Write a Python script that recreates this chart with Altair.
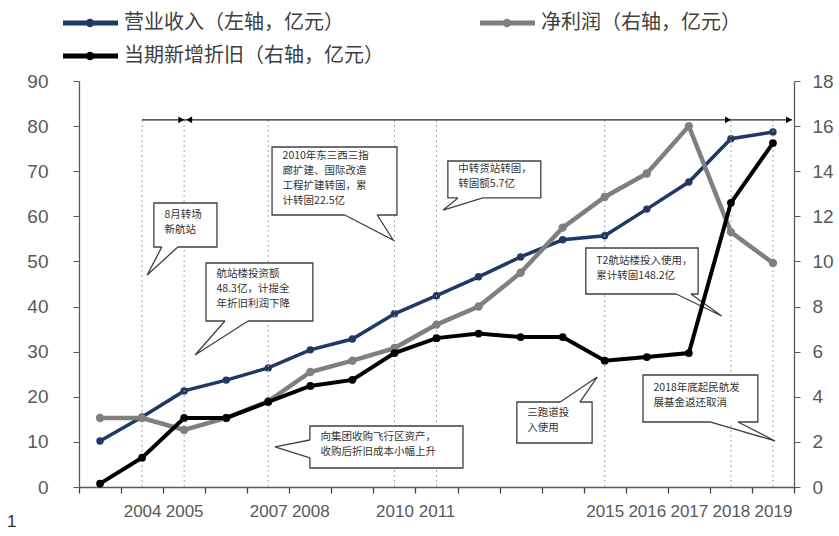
import altair as alt
import pandas as pd

# ---------------- data ----------------
years = list(range(2003, 2020))
year_labels = ["", "2004", "2005", "", "2007", "2008", "", "2010", "2011",
               "", "", "", "2015", "2016", "2017", "2018", "2019"]
revenue = [10.2, 15.5, 21.3, 23.7, 26.4, 30.4, 32.8, 38.4, 42.4,
           46.6, 51.0, 54.8, 55.7, 61.6, 67.6, 77.2, 78.7]
net_profit = [3.06, 3.06, 2.53, 3.06, 3.8, 5.1, 5.6, 6.16, 7.2,
              8.0, 9.5, 11.5, 12.86, 13.9, 16.0, 11.3, 9.93]
depreciation = [0.15, 1.3, 3.06, 3.06, 3.77, 4.48, 4.75, 5.94, 6.6,
                 6.8, 6.65, 6.65, 5.6, 5.76, 5.94, 12.6, 15.25]

series_names = ["营业收入（左轴，亿元）", "净利润（右轴，亿元）", "当期新增折旧（右轴，亿元）"]
series_colors = ["#1F3864", "#7F7F7F", "#000000"]

event_years = [2004, 2005, 2007, 2010, 2011, 2015, 2018, 2019]
period_level = 81.4           # left-axis units
period_start, period_end = 2004, 2019.45
arrow_years = [2004.93, 2005.12, 2017.93, 2019.38]
arrow_shapes = ["triangle-right", "triangle-left", "triangle-right", "triangle-right"]

callout_text = [
    "8月转场\n新航站",
    "航站楼投资额\n48.3亿，计提全\n年折旧利润下降",
    "2010年东三西三指\n廊扩建、国际改造\n工程扩建转固，累\n计转固22.5亿",
    "中转货站转固，\n转固额5.7亿",
    "T2航站楼投入使用，\n累计转固148.2亿",
    "三跑道投\n入使用",
    "2018年底起民航发\n展基金返还取消",
    "向集团收购飞行区资产，\n收购后折旧成本小幅上升",
]
box_x0 = [2004.28, 2005.52, 2007.09, 2011.27, 2014.55, 2012.91, 2015.91, 2007.99]
box_x1 = [2005.78, 2008.06, 2010.06, 2013.48, 2017.22, 2014.70, 2018.64, 2011.63]
box_top = [62.96, 49.66, 75.37, 72.27, 52.98, 18.84, 24.83, 13.52]
box_bot = [53.20, 36.80, 60.30, 64.07, 42.78, 9.75, 14.41, 4.21]
tail_ax = [2004.47, 2005.97, 2008.82, 2011.51, 2016.70, 2013.94, 2017.50, 2007.99]
tail_ay = [53.20, 36.80, 60.30, 64.07, 42.78, 18.84, 14.41, 10.42]
tail_bx = [2004.85, 2006.52, 2009.59, 2012.10, 2017.05, 2014.41, 2018.17, 2007.99]
tail_by = [53.20, 36.80, 60.30, 64.07, 42.78, 18.84, 14.41, 6.43]
tip_x = [2004.12, 2005.26, 2009.97, 2011.16, 2017.78, 2014.82, 2019.05, 2007.16]
tip_y = [47.0, 29.26, 54.75, 61.4, 37.9, 24.38, 10.2, 8.87]

# ---------------- styling ----------------
AX_FONT = "Liberation Sans"
CJK = "Noto Sans CJK SC"
AX_COLOR = "#595959"
XDOM = [2002.5, 2019.5]
PLOT_H = 406
LINE_H = 15
UNITS_PER_PX = 90 / PLOT_H

# x axis: ticks between categories, labels at categories
tick_values = [2002.5 + 0.5 * i for i in range(35)]
label_arr = "[" + ",".join("'" + s + "'" for s in year_labels) + "]"
label_expr = f"datum.value % 1 == 0 ? {label_arr}[datum.value - {years[0]}] : ''"

x_axis = alt.Axis(
    values=tick_values, labelExpr=label_expr, title=None, grid=False, orient="bottom",
    tickOpacity={"condition": {"test": "datum.value % 1 != 0", "value": 1}, "value": 0},
    labelFont=AX_FONT, labelFontSize=17, labelColor=AX_COLOR,
    domainColor=AX_COLOR, tickColor="#404040", tickSize=6, tickWidth=1.3, domainWidth=1.3,
    labelPadding=10, labelOverlap=False, labelFlush=False, labelBound=False,
)
yl_axis = alt.Axis(
    values=list(range(0, 91, 10)), title=None, grid=False, orient="left",
    labelFont=AX_FONT, labelFontSize=19, labelColor=AX_COLOR,
    domainColor=AX_COLOR, tickColor=AX_COLOR, tickSize=6, domainWidth=1.3,
    labelPadding=25,
)
yr_axis = alt.Axis(
    values=list(range(0, 19, 2)), title=None, grid=False, orient="right",
    labelFont=AX_FONT, labelFontSize=19, labelColor=AX_COLOR,
    domainColor=AX_COLOR, tickColor=AX_COLOR, tickSize=6, domainWidth=1.3,
    labelPadding=12,
)


def X(field):
    return alt.X(field, type="quantitative",
                 scale=alt.Scale(domain=XDOM, nice=False, zero=False), axis=x_axis)


def YL(field):
    return alt.Y(field, type="quantitative",
                 scale=alt.Scale(domain=[0, 90], nice=False), axis=yl_axis)


def YR(field):
    return alt.Y(field, type="quantitative",
                 scale=alt.Scale(domain=[0, 18], nice=False), axis=yr_axis)


# ---------------- tables ----------------
df_rev = pd.DataFrame({"year": years, "v": revenue})
df_np = pd.DataFrame({"year": years, "v": net_profit})
df_dep = pd.DataFrame({"year": years, "v": depreciation})

df_events = pd.DataFrame({"year": event_years, "lo": 0.0, "hi": period_level})
df_period = pd.DataFrame({"a": [period_start], "b": [period_end], "y": [period_level]})
df_arrows = pd.DataFrame({"year": arrow_years, "shape": arrow_shapes, "y": period_level})

df_boxes = pd.DataFrame({"x0": box_x0, "x1": box_x1, "t": box_top, "b": box_bot,
                         "txt": callout_text})
n_lines = df_boxes["txt"].str.count("\n") + 1
df_boxes["tx"] = df_boxes["x0"] + 0.25
df_boxes["ty"] = (df_boxes["t"] + df_boxes["b"]) / 2 + n_lines * LINE_H * UNITS_PER_PX / 2

tail_rows = []
for i in range(len(callout_text)):
    tail_rows.append({"cid": i, "k": 0, "x": tail_ax[i], "y": tail_ay[i]})
    tail_rows.append({"cid": i, "k": 1, "x": tip_x[i], "y": tip_y[i]})
    tail_rows.append({"cid": i, "k": 2, "x": tail_bx[i], "y": tail_by[i]})
df_tails = pd.DataFrame(tail_rows)
df_covers = pd.DataFrame({"x": tail_ax, "y": tail_ay, "x2": tail_bx, "y2": tail_by})

one = pd.DataFrame({"a": [0]})

# ---------------- layers (left axis) ----------------
blue = alt.Chart(df_rev).mark_line(
    color=series_colors[0], strokeWidth=3.5,
    point=alt.OverlayMarkDef(filled=True, size=55, color=series_colors[0])).encode(
    x=X("year"), y=YL("v"))

events = alt.Chart(df_events).mark_rule(color="#A6A6A6", strokeDash=[2, 3], strokeWidth=1).encode(
    x=X("year"), y=YL("lo"), y2="hi")

period_line = alt.Chart(df_period).mark_rule(color="#262626", strokeWidth=1.3).encode(
    x=X("a"), x2="b", y=YL("y"))

arrows = alt.Chart(df_arrows).mark_point(filled=True, color="#000000", size=45, opacity=1).encode(
    x=X("year"), y=YL("y"),
    shape=alt.Shape("shape:N", scale=None, legend=None))

boxes = alt.Chart(df_boxes).mark_rect(fill="white", stroke="#404040", strokeWidth=1.3).encode(
    x=X("x0"), x2="x1", y=YL("t"), y2="b")

covers = alt.Chart(df_covers).mark_rule(color="white", strokeWidth=3).encode(
    x=X("x"), x2="x2", y=YL("y"), y2="y2")

tails = alt.Chart(df_tails).mark_line(color="#404040", strokeWidth=1.3).encode(
    x=X("x"), y=YL("y"), detail="cid:N", order="k:Q")

box_text = alt.Chart(df_boxes).mark_text(
    align="left", baseline="top", font=CJK, fontSize=10.5, lineHeight=LINE_H,
    color="#333333", lineBreak="\n").encode(x=X("tx"), y=YL("ty"), text="txt:N")

# legend (manual, Excel style)
legend_pos = [(-16, -58), (401, -58), (-16, -25)]
legend_layers = []
for name, color, (lx, ly) in zip(series_names, series_colors, legend_pos):
    legend_layers.append(alt.Chart(one).mark_rule(color=color, strokeWidth=5).encode(
        x=alt.value(lx), x2=alt.value(lx + 55), y=alt.value(ly)))
    legend_layers.append(alt.Chart(one).mark_point(filled=True, color=color, size=70, opacity=1).encode(
        x=alt.value(lx + 27), y=alt.value(ly)))
    legend_layers.append(alt.Chart(one).mark_text(
        align="left", baseline="middle", font=CJK, fontSize=20, color="#404040").encode(
        x=alt.value(lx + 61), y=alt.value(ly), text=alt.value(name)))

page_no = alt.Chart(one).mark_text(align="left", baseline="middle", font=AX_FONT,
                                   fontSize=17, color="#333333").encode(
    x=alt.value(-72), y=alt.value(441), text=alt.value("1"))

left_group = alt.layer(blue, events, period_line, arrows, boxes, covers, tails, box_text,
                       *legend_layers, page_no)

# ---------------- layers (right axis) ----------------
gray = alt.Chart(df_np).mark_line(
    color=series_colors[1], strokeWidth=4.5,
    point=alt.OverlayMarkDef(filled=True, size=70, color=series_colors[1])).encode(
    x=X("year"), y=YR("v"))

black = alt.Chart(df_dep).mark_line(
    color=series_colors[2], strokeWidth=4,
    point=alt.OverlayMarkDef(filled=True, size=60, color=series_colors[2])).encode(
    x=X("year"), y=YR("v"))

right_group = alt.layer(gray, black)

chart = alt.layer(left_group, right_group).resolve_scale(y="independent").properties(
    width=715, height=406,
    padding={"left": 79, "top": 81, "right": 45, "bottom": 49},
    autosize=alt.AutoSizeParams(type="none"),
    background="white",
).configure_view(stroke=None)

chart.save("out.html", embed_options={"renderer": "svg", "actions": False})
